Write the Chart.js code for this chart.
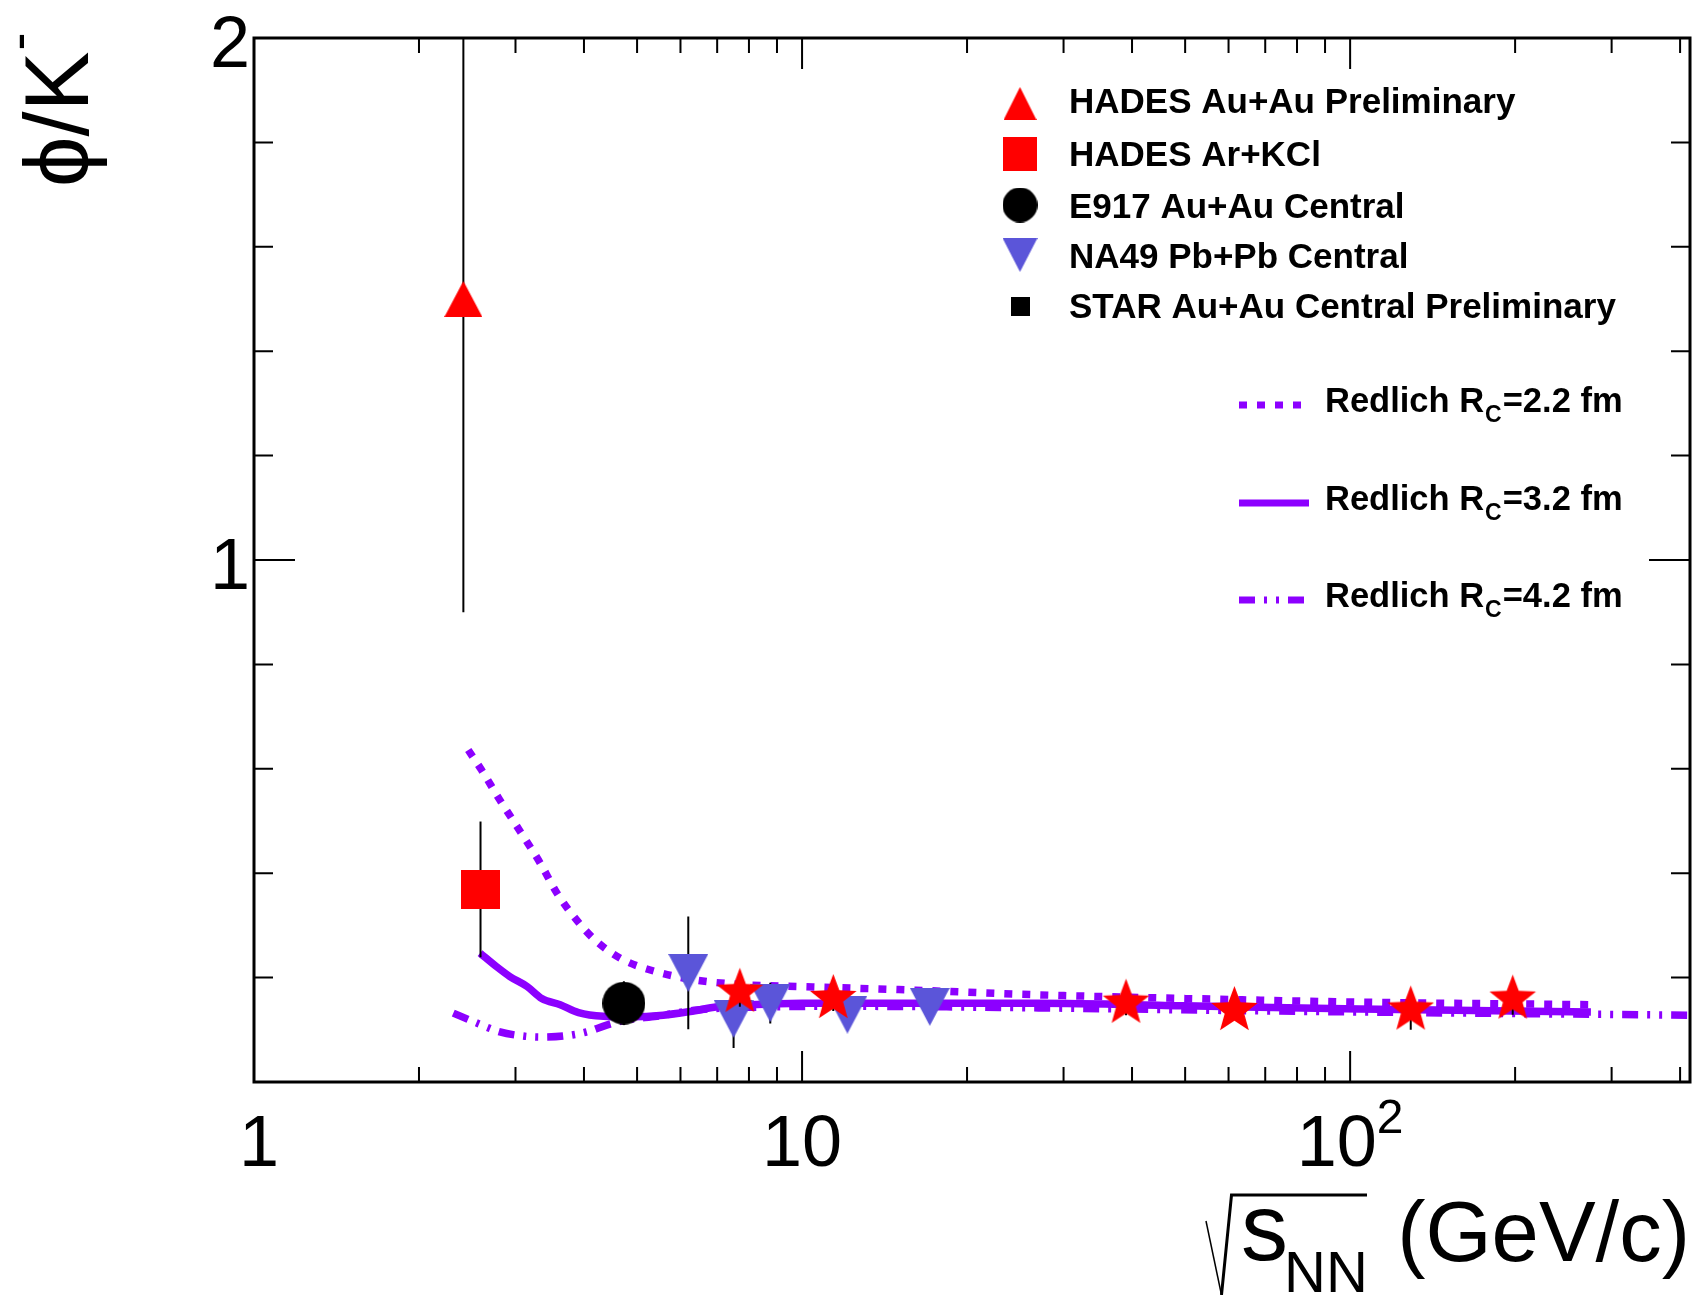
<!DOCTYPE html>
<html>
<head>
<meta charset="utf-8">
<title>phi/K- vs sqrt(sNN)</title>
<script src="https://cdn.jsdelivr.net/npm/chart.js@4.4.1/dist/chart.umd.min.js"></script>
<style>
  html, body { margin: 0; padding: 0; background: #fff; }
  #wrap { width: 1696px; height: 1295px; }
</style>
</head>
<body>
<div id="wrap"><canvas id="grafico" width="1696" height="1295"></canvas></div>
<script>
// values
const hadesAuAuX = [2.41];
const hadesAuAuY = [1.50];
const hadesAuAuErr = [0.60];

const hadesArKClX = [2.59];
const hadesArKClY = [0.369];
const hadesArKClErr = [0.13];

const e917X = [4.73];
const e917Y = [0.151];
const e917Err = [0.042];

const na49X = [6.2, 7.5, 8.75, 12.1, 17.1];
const na49Y = [0.209, 0.121, 0.151, 0.129, 0.144];
const na49Err = [0.108, 0.056, 0.039, 0.03, 0.03];

const starX = [7.7, 11.4, 39, 61.5, 129, 198];
const starY = [0.172, 0.160, 0.151, 0.137, 0.138, 0.159];
const starErr = [0.028, 0.024, 0.023, 0.015, 0.038, 0.03];

// Redlich canonical suppression curves
const redlich22X = [2.46, 2.6, 2.81, 3.06, 3.33, 3.57, 3.88, 4.22, 4.72, 5.43, 6.43, 7.93, 9.8, 15, 27, 50, 104, 283];
const redlich22Y = [0.636, 0.598, 0.540, 0.480, 0.419, 0.362, 0.310, 0.269, 0.234, 0.211, 0.195, 0.186, 0.183, 0.177, 0.167, 0.160, 0.153, 0.148];

const redlich32X = [2.585, 2.77, 2.93, 3.15, 3.35, 3.62, 3.91, 4.34, 4.86, 5.58, 6.25, 7.0, 8.0, 10, 27, 50, 104, 275];
const redlich32Y = [0.247, 0.221, 0.202, 0.183, 0.160, 0.148, 0.133, 0.126, 0.125, 0.128, 0.135, 0.144, 0.148, 0.151, 0.151, 0.146, 0.140, 0.134];

const redlich42X = [2.31, 2.51, 2.81, 3.10, 3.33, 3.67, 4.05, 4.40, 4.79, 5.43, 6.43, 8, 12, 27, 60, 130, 417];
const redlich42Y = [0.132, 0.116, 0.096, 0.088, 0.086, 0.088, 0.096, 0.109, 0.119, 0.126, 0.138, 0.143, 0.145, 0.142, 0.137, 0.133, 0.128];

const nombresSeries = [
  "HADES Au+Au Preliminary",
  "HADES Ar+KCl",
  "E917 Au+Au Central",
  "NA49 Pb+Pb Central",
  "STAR Au+Au Central Preliminary",
];
const nombresCurvas = ["=2.2 fm", "=3.2 fm", "=4.2 fm"];

// axis ticks
const xMajor = [1, 10, 100];
const xLabels = ["1", "10", "10"];
const xLabelSup = ["", "", "2"];
const yLabelValues = [1, 2];
const yLabels = ["1", "2"];

const FONT = "'Liberation Sans', Arial, Helvetica, sans-serif";
const VIOLETA = "#8c00ff";
const AZUL = "#5b55d9";
const ROJO = "#ff0000";

function puntos(xs, ys) {
  return xs.map((x, i) => ({ x: x, y: ys[i] }));
}

// marker images (ROOT style shapes)
function lienzo(w, h) {
  const c = document.createElement("canvas");
  c.width = w;
  c.height = h;
  return c;
}
function marcaTriangulo(w, h, color, abajo) {
  const c = lienzo(w, h);
  const g = c.getContext("2d");
  g.fillStyle = color;
  g.beginPath();
  if (abajo) {
    g.moveTo(0, 0); g.lineTo(w, 0); g.lineTo(w / 2, h);
  } else {
    g.moveTo(0, h); g.lineTo(w, h); g.lineTo(w / 2, 0);
  }
  g.closePath();
  g.fill();
  return c;
}
function marcaCuadro(s, color) {
  const c = lienzo(s, s);
  const g = c.getContext("2d");
  g.fillStyle = color;
  g.fillRect(0, 0, s, s);
  return c;
}
function marcaCirculo(d, color) {
  const c = lienzo(d, d);
  const g = c.getContext("2d");
  g.fillStyle = color;
  g.beginPath();
  g.arc(d / 2, d / 2, d / 2, 0, Math.PI * 2);
  g.fill();
  return c;
}
function marcaEstrella(r, color) {
  const s = Math.ceil(2 * r) + 2;
  const c = lienzo(s, s);
  const g = c.getContext("2d");
  g.fillStyle = color;
  g.beginPath();
  for (let i = 0; i < 10; i++) {
    const a = -Math.PI / 2 + (i * Math.PI) / 5;
    const rr = i % 2 ? r * 0.42 : r;
    const px = s / 2 + rr * Math.cos(a);
    const py = s / 2 + rr * Math.sin(a);
    if (i === 0) g.moveTo(px, py); else g.lineTo(px, py);
  }
  g.closePath();
  g.fill();
  return c;
}

const triArriba = marcaTriangulo(38, 36, ROJO, false);
const cuadro = marcaCuadro(39, ROJO);
const circulo = marcaCirculo(43, "#000");
const triAbajo = marcaTriangulo(40, 38, AZUL, true);
const estrella = marcaEstrella(24.5, ROJO);

// legend markers are a bit smaller
const legTriArriba = marcaTriangulo(33, 33, ROJO, false);
const legCuadro = marcaCuadro(34, ROJO);
const legCirculo = marcaCirculo(35, "#000");
const legTriAbajo = marcaTriangulo(35, 34, AZUL, true);
const legCuadroNegro = marcaCuadro(19, "#000");

const DOTTED = [8, 10];
const DASHDOT = [16, 9, 3, 9, 3, 9];

// error bars, drawn right under each marker set
const barrasError = {
  id: "barrasError",
  beforeDatasetDraw(chart, args) {
    const ds = chart.data.datasets[args.index];
    if (!ds.errores) return;
    const { ctx, chartArea: a, scales: { x, y } } = chart;
    ctx.save();
    ctx.beginPath();
    ctx.rect(a.left, a.top, a.right - a.left, a.bottom - a.top);
    ctx.clip();
    ctx.strokeStyle = "#000";
    ctx.lineWidth = 2;
    ctx.beginPath();
    ds.data.forEach((p, i) => {
      const e = ds.errores[i];
      const px = x.getPixelForValue(p.x);
      ctx.moveTo(px, y.getPixelForValue(p.y - e));
      ctx.lineTo(px, y.getPixelForValue(p.y + e));
    });
    ctx.stroke();
    ctx.restore();
  },
};

// frame, inward ticks, labels, titles and legend
const marco = {
  id: "marco",
  afterDraw(chart) {
    const { ctx, chartArea: a, scales: { x, y } } = chart;
    ctx.save();
    ctx.strokeStyle = "#000";
    ctx.fillStyle = "#000";

    // ticks
    ctx.lineWidth = 2;
    ctx.beginPath();
    for (let d = 1; d <= 100; d *= 10) {
      for (let k = 1; k <= 9; k++) {
        const v = k * d;
        if (v <= x.min || v >= x.max) continue;
        const px = x.getPixelForValue(v);
        const len = k === 1 ? 31 : 15;
        ctx.moveTo(px, a.bottom); ctx.lineTo(px, a.bottom - len);
        ctx.moveTo(px, a.top); ctx.lineTo(px, a.top + len);
      }
    }
    for (let k = 1; k < 10; k++) {
      const py = y.getPixelForValue(k * 0.2);
      const len = k === 5 ? 41 : 19;
      ctx.moveTo(a.left, py); ctx.lineTo(a.left + len, py);
      ctx.moveTo(a.right, py); ctx.lineTo(a.right - len, py);
    }
    ctx.stroke();

    ctx.lineWidth = 3;
    ctx.strokeRect(a.left, a.top, a.right - a.left, a.bottom - a.top);

    // tick labels
    ctx.font = "72px " + FONT;
    ctx.textBaseline = "alphabetic";
    ctx.textAlign = "right";
    yLabelValues.forEach((v, i) => {
      ctx.fillText(yLabels[i], a.left - 4, y.getPixelForValue(v) + 29);
    });
    ctx.textAlign = "left";
    xMajor.forEach((v, i) => {
      ctx.font = "72px " + FONT;
      const w1 = ctx.measureText(xLabels[i]).width;
      ctx.font = "48px " + FONT;
      const w2 = xLabelSup[i] ? ctx.measureText(xLabelSup[i]).width : 0;
      let x0 = x.getPixelForValue(v) - (w1 + w2) / 2;
      if (xLabels[i] === "1") x0 += 5;
      ctx.font = "72px " + FONT;
      ctx.fillText(xLabels[i], x0, 1166);
      if (xLabelSup[i]) {
        ctx.font = "48px " + FONT;
        ctx.fillText(xLabelSup[i], x0 + w1, 1133);
      }
    });

    // y title
    ctx.save();
    ctx.translate(88, 187);
    ctx.rotate(-Math.PI / 2);
    ctx.font = "90px " + FONT;
    ctx.fillText("ϕ/K", 0, 0);
    const wy = ctx.measureText("ϕ/K").width;
    ctx.font = "54px " + FONT;
    ctx.fillText("-", wy + 1, -52);
    ctx.restore();

    // x title: sqrt(s_NN) (GeV/c)
    ctx.lineWidth = 1.5;
    ctx.beginPath();
    ctx.moveTo(1206, 1221);
    ctx.lineTo(1221.5, 1295);
    ctx.stroke();
    ctx.lineWidth = 3;
    ctx.beginPath();
    ctx.moveTo(1221.5, 1295);
    ctx.lineTo(1231.5, 1195);
    ctx.lineTo(1367, 1195);
    ctx.stroke();
    ctx.textAlign = "left";
    ctx.font = "94px " + FONT;
    ctx.fillText("s", 1241, 1260);
    ctx.font = "58px " + FONT;
    ctx.fillText("NN", 1284, 1292);
    ctx.textAlign = "right";
    ctx.font = "85px " + FONT;
    ctx.fillText("(GeV/c)", 1690, 1261);

    // legend: data sets
    const marcas = [legTriArriba, legCuadro, legCirculo, legTriAbajo, legCuadroNegro];
    const filasY = [103.5, 154, 205, 255, 306.5];
    const basesY = [112.6, 165.6, 217.5, 268.3, 318];
    ctx.textAlign = "left";
    ctx.font = "bold 35px " + FONT;
    marcas.forEach((m, i) => {
      ctx.drawImage(m, 1020 - m.width / 2, filasY[i] - m.height / 2);
      ctx.fillText(nombresSeries[i], 1069, basesY[i]);
    });

    // legend: Redlich curves
    const estilos = [DOTTED, [], DASHDOT];
    const finLinea = [1305, 1309, 1305];
    const lineasY = [405, 503, 600];
    ctx.strokeStyle = VIOLETA;
    ctx.lineWidth = 7;
    ctx.lineCap = "butt";
    lineasY.forEach((ly, i) => {
      ctx.setLineDash(estilos[i]);
      ctx.beginPath();
      ctx.moveTo(1239, ly);
      ctx.lineTo(finLinea[i], ly);
      ctx.stroke();
      ctx.setLineDash([]);
      const base = ly + 7;
      ctx.font = "bold 34.5px " + FONT;
      ctx.fillText("Redlich R", 1325, base);
      let xc = 1325 + ctx.measureText("Redlich R").width + 1;
      ctx.font = "bold 23px " + FONT;
      ctx.fillText("C", xc, base + 10);
      xc += ctx.measureText("C").width + 1;
      ctx.font = "bold 34.5px " + FONT;
      ctx.fillText(nombresCurvas[i], xc, base);
    });

    ctx.restore();
  },
};

const ctx = document.getElementById("grafico").getContext("2d");

const curva = (xs, ys, dash) => ({
  data: puntos(xs, ys),
  showLine: true,
  borderColor: VIOLETA,
  backgroundColor: VIOLETA,
  borderWidth: 7.5,
  borderDash: dash,
  borderCapStyle: "butt",
  pointRadius: 0,
  fill: false,
  cubicInterpolationMode: "monotone",
  order: 5,
});

const chart = new Chart(ctx, {
  type: "scatter",
  data: {
    datasets: [
      { label: nombresSeries[4], data: puntos(starX, starY), errores: starErr, pointStyle: estrella, pointRadius: 20, order: 0 },
      { label: nombresSeries[2], data: puntos(e917X, e917Y), errores: e917Err, pointStyle: circulo, pointRadius: 20, order: 1 },
      { label: nombresSeries[1], data: puntos(hadesArKClX, hadesArKClY), errores: hadesArKClErr, pointStyle: cuadro, pointRadius: 20, order: 1 },
      { label: nombresSeries[0], data: puntos(hadesAuAuX, hadesAuAuY), errores: hadesAuAuErr, pointStyle: triArriba, pointRadius: 20, order: 1 },
      { label: nombresSeries[3], data: puntos(na49X, na49Y), errores: na49Err, pointStyle: triAbajo, pointRadius: 20, order: 2 },
      Object.assign({ label: "Redlich Rc=2.2 fm" }, curva(redlich22X, redlich22Y, DOTTED)),
      Object.assign({ label: "Redlich Rc=3.2 fm" }, curva(redlich32X, redlich32Y, [])),
      Object.assign({ label: "Redlich Rc=4.2 fm" }, curva(redlich42X, redlich42Y, DASHDOT)),
    ],
  },
  options: {
    responsive: false,
    devicePixelRatio: 1,
    animation: false,
    events: [],
    layout: { autoPadding: false, padding: { left: 254, top: 38, right: 6, bottom: 213 } },
    plugins: {
      legend: { display: false },
      tooltip: { enabled: false },
    },
    scales: {
      x: { type: "logarithmic", min: 1, max: 417, display: false },
      y: { type: "linear", min: 0, max: 2, display: false },
    },
  },
  plugins: [barrasError, marco],
});
</script>
</body>
</html>
